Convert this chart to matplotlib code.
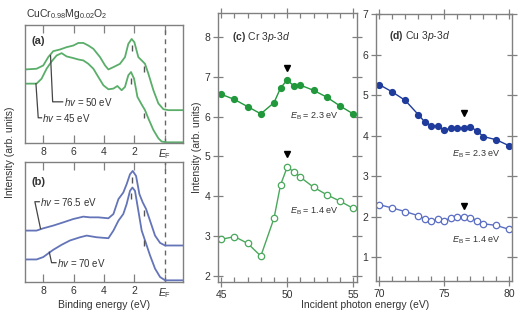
import matplotlib
matplotlib.use("Agg")
import matplotlib.pyplot as plt
from matplotlib.ticker import MultipleLocator, FixedLocator

plt.rcParams['font.family'] = ['Liberation Sans', 'DejaVu Sans']
plt.rcParams['mathtext.fontset'] = 'custom'
plt.rcParams['mathtext.rm'] = 'Liberation Sans'
plt.rcParams['mathtext.it'] = 'Liberation Sans:italic'
plt.rcParams['mathtext.bf'] = 'Liberation Sans:bold'

# ---------------- data ----------------
# panel (a): valence-band spectra (binding energy eV, intensity arb.)
a50_x = [9.2, 8.44, 8.0, 7.67, 7.34, 6.90, 6.46, 6.02, 5.69, 5.36, 5.03, 4.70, 4.26, 3.93, 3.71,
         3.38, 2.95, 2.62, 2.40, 2.18, 2.00, 1.74, 1.52, 1.30, 1.08, 0.75, 0.42, 0.09, -0.24, -1.2]
a50_y = [62.1, 62.7, 65.5, 72.6, 77.7, 79.1, 81.1, 82.5, 84.7, 84.7, 82.5, 79.7, 72.6, 65.5, 62.1,
         64.1, 66.9, 72.6, 83.9, 88.1, 85.3, 72.6, 69.8, 66.9, 58.5, 44.4, 33.1, 28.2, 27.4, 27.4]
a45_x = [9.2, 8.44, 8.11, 7.78, 7.45, 7.12, 6.79, 6.46, 6.02, 5.69, 5.36, 5.03, 4.70, 4.37, 4.04, 3.71,
         3.38, 3.12, 2.84, 2.62, 2.40, 2.22, 2.02, 1.80, 1.52, 1.30, 1.08, 0.75, 0.42, 0.20, -0.13, -1.2]
a45_y = [50.0, 50.0, 54.2, 62.7, 68.9, 74.0, 76.0, 73.2, 71.8, 70.6, 69.8, 66.9, 62.7, 55.6, 48.6, 45.2,
         45.8, 48.0, 44.4, 47.2, 57.1, 59.9, 54.2, 38.7, 32.2, 27.4, 20.3, 10.5, 3.4, 0.6, 0.0, 0.0]
# panel (b)
b765_x = [9.2, 8.44, 8.0, 7.34, 6.68, 6.02, 5.36, 4.92, 4.37, 3.71, 3.38, 3.05, 2.73, 2.51, 2.29,
          2.11, 1.89, 1.67, 1.45, 1.23, 0.97, 0.64, 0.31, -0.02, -1.2]
b765_y = [42.5, 42.5, 44.4, 46.7, 49.4, 52.2, 54.2, 53.6, 53.6, 52.8, 56.4, 68.9, 74.4, 81.4, 89.7,
          92.5, 88.3, 73.1, 66.1, 60.6, 50.8, 38.3, 32.2, 30.0, 30.0]
b70_x = [9.2, 8.44, 8.0, 7.34, 6.79, 6.24, 5.58, 5.14, 4.48, 3.71, 3.38, 3.05, 2.73, 2.51, 2.29,
         2.13, 1.96, 1.74, 1.52, 1.30, 0.97, 0.64, 0.31, -0.02, -1.2]
b70_y = [18.3, 18.3, 20.3, 26.4, 30.6, 34.2, 36.9, 38.3, 36.9, 36.1, 42.5, 50.8, 56.4, 64.7, 75.8,
         78.6, 75.8, 59.2, 42.5, 34.2, 21.7, 10.6, 3.6, 0.8, 0.8]

# peak marks (x, y_low, y_high)
a_mark_x = [2.18, 1.36, 2.22, 1.36]
a_mark_y0 = [77.7, 59.9, 50.0, 20.3]
a_mark_y1 = [83.3, 64.7, 54.8, 25.4]
b_mark_x = [2.18, 1.36, 2.22, 1.36]
b_mark_y0 = [82.8, 55.0, 68.9, 29.4]
b_mark_y1 = [87.5, 59.7, 73.9, 34.2]

be_ticks = [8, 6, 4, 2, 0]
be_ticklabels = ['8', '6', '4', '2', r'$E_\mathrm{F}$']

# panel (c): Cr 3p-3d resonance
cr_hv = [45, 46, 47, 48, 49, 49.5, 50, 50.5, 51, 52, 53, 54, 55]
cr_23 = [6.56, 6.43, 6.25, 6.07, 6.35, 6.72, 6.92, 6.77, 6.79, 6.66, 6.49, 6.27, 6.07]
cr_14 = [2.92, 2.99, 2.82, 2.50, 3.45, 4.29, 4.73, 4.62, 4.48, 4.23, 4.04, 3.88, 3.70]
cr_arrow_x = [50, 50]
cr_arrow_y = [7.22, 5.07]

# panel (d): Cu 3p-3d resonance
cu_hv = [70, 71, 72, 73, 73.5, 74, 74.5, 75, 75.5, 76, 76.5, 77, 77.5, 78, 79, 80]
cu_23 = [5.26, 5.08, 4.87, 4.52, 4.34, 4.25, 4.23, 4.14, 4.19, 4.18, 4.20, 4.22, 4.12, 3.98, 3.90, 3.75]
cu_14 = [2.30, 2.22, 2.13, 2.03, 1.95, 1.90, 1.94, 1.91, 1.97, 1.99, 1.99, 1.98, 1.91, 1.83, 1.79, 1.69]
cu_arrow_x = [76.5, 76.5]
cu_arrow_y = [4.56, 2.26]

# ---------------- figure ----------------
W, H = 529, 324
fig = plt.figure(figsize=(W / 100, H / 100), dpi=100)


def box(l, t, r, b):
    return [l / W, 1 - b / H, (r - l) / W, (b - t) / H]


frame_c = '#808080'
txt_c = '#333333'
green_line = '#5aae6a'
blue_line = '#6474b8'

axA = fig.add_axes(box(25, 25, 183, 143))
axB = fig.add_axes(box(25, 162, 183, 282))
axC = fig.add_axes(box(218, 13, 357, 282))
axD = fig.add_axes(box(376, 14, 512, 281))

for ax in (axA, axB, axC, axD):
    for s in ax.spines.values():
        s.set_color(frame_c)
        s.set_linewidth(1.0)
    ax.tick_params(colors=frame_c, labelcolor=txt_c, labelsize=7.5, direction='in',
                   top=True, right=True, width=0.9)

for ax, label in ((axA, '(a)'), (axB, '(b)')):
    ax.set_xlim(9.2, -1.2)
    ax.set_ylim(-0.6, 100)
    ax.xaxis.set_major_locator(FixedLocator(be_ticks))
    ax.set_xticklabels(be_ticklabels)
    ax.set_yticks([])
    ax.tick_params(axis='x', length=6, pad=3)
    ax.axvline(0, color='#666666', lw=1.0, ls=(0, (3.5, 3)))
    ax.text(8.75, 86 if label == '(a)' else 83, label, fontsize=8, fontweight='bold',
            color=txt_c, va='center', ha='left')

axA.plot(a50_x, a50_y, color=green_line, lw=1.3)
axA.plot(a45_x, a45_y, color=green_line, lw=1.3)
axA.vlines(a_mark_x, a_mark_y0, a_mark_y1, color='#555555', lw=1.0)
axB.plot(b765_x, b765_y, color=blue_line, lw=1.3)
axB.plot(b70_x, b70_y, color=blue_line, lw=1.3)
axB.vlines(b_mark_x, b_mark_y0, b_mark_y1, color='#555555', lw=1.0)

lead_c = '#444444'
# leaders (a)
axA.plot([7.52, 7.38, 6.72], [74.0, 34.5, 34.5], color=lead_c, lw=0.9)
axA.text(6.64, 34.5, r'$hv$ = 50 eV', fontsize=7, color=txt_c, va='center', ha='left')
axA.plot([8.48, 8.33, 8.11], [50.0, 20.9, 20.9], color=lead_c, lw=0.9)
axA.text(8.05, 20.9, r'$hv$ = 45 eV', fontsize=7, color=txt_c, va='center', ha='left')
# leaders (b)
axB.plot([8.18, 8.55, 8.26], [44.2, 66.7, 66.7], color=lead_c, lw=0.9)
axB.text(8.22, 66.7, r'$hv$ = 76.5 eV', fontsize=7, color=txt_c, va='center', ha='left')
axB.plot([7.6, 7.45, 7.16], [24.4, 15.6, 15.6], color=lead_c, lw=0.9)
axB.text(7.1, 15.6, r'$hv$ = 70 eV', fontsize=7, color=txt_c, va='center', ha='left')

fig.text(26 / W, 1 - 14 / H, r'CuCr$_{0.98}$Mg$_{0.02}$O$_2$', fontsize=7.5, color=txt_c,
         ha='left', va='center')


def style_resonance_axis(ax):
    ax.xaxis.set_major_locator(MultipleLocator(5))
    ax.xaxis.set_minor_locator(MultipleLocator(1))
    ax.yaxis.set_major_locator(MultipleLocator(1))
    ax.tick_params(which='major', direction='inout', length=7, pad=2)
    ax.tick_params(which='minor', direction='in', top=True, right=True, length=3.5,
                   color=frame_c, width=0.9)


# panel (c)
g_fill = '#22983c'
g_open = '#4aa85c'
axC.plot(cr_hv, cr_23, '-o', color=g_fill, lw=1.0, ms=4.2, mfc=g_fill, mec=g_fill)
axC.plot(cr_hv, cr_14, '-o', color=g_open, lw=1.0, ms=4.6, mfc='white', mec=g_open, mew=0.9)
axC.plot(cr_arrow_x, cr_arrow_y, 'v', color='black', ms=4.5, ls='none')
axC.set_xlim(44.75, 55.3)
axC.set_ylim(1.85, 8.6)
style_resonance_axis(axC)
axC.text(45.8, 8.0, r'$\mathbf{(c)}$ Cr 3$p$-3$d$', fontsize=7.5, color=txt_c, va='center')
axC.text(50.2, 6.0, r'$E_\mathrm{B}$ = 2.3 eV', fontsize=6.5, color=txt_c, va='center')
axC.text(50.2, 3.63, r'$E_\mathrm{B}$ = 1.4 eV', fontsize=6.5, color=txt_c, va='center')
axC.set_ylabel('Intensity (arb. units)', fontsize=7.5, color=txt_c, labelpad=2)

# panel (d)
b_fill = '#1f3c9c'
b_open = '#5a6ec4'
axD.plot(cu_hv, cu_23, '-o', color=b_fill, lw=1.0, ms=4.2, mfc=b_fill, mec=b_fill)
axD.plot(cu_hv, cu_14, '-o', color=b_open, lw=1.0, ms=4.6, mfc='white', mec=b_open, mew=0.9)
axD.plot(cu_arrow_x, cu_arrow_y, 'v', color='black', ms=4.5, ls='none')
axD.set_xlim(69.75, 80.2)
axD.set_ylim(0.42, 7.0)
style_resonance_axis(axD)
axD.text(70.75, 6.46, r'$\mathbf{(d)}$ Cu 3$p$-3$d$', fontsize=7.5, color=txt_c, va='center')
axD.text(75.6, 3.54, r'$E_\mathrm{B}$ = 2.3 eV', fontsize=6.5, color=txt_c, va='center')
axD.text(75.6, 1.43, r'$E_\mathrm{B}$ = 1.4 eV', fontsize=6.5, color=txt_c, va='center')

fig.text(104 / W, 1 - 305 / H, 'Binding energy (eV)', fontsize=7.5, color=txt_c,
         ha='center', va='center')
fig.text(365 / W, 1 - 305 / H, 'Incident photon energy (eV)', fontsize=7.5, color=txt_c,
         ha='center', va='center')
fig.text(10 / W, 1 - 152 / H, 'Intensity (arb. units)', fontsize=7.5, color=txt_c,
         ha='center', va='center', rotation=90)

fig.savefig('out.png', dpi=100)
